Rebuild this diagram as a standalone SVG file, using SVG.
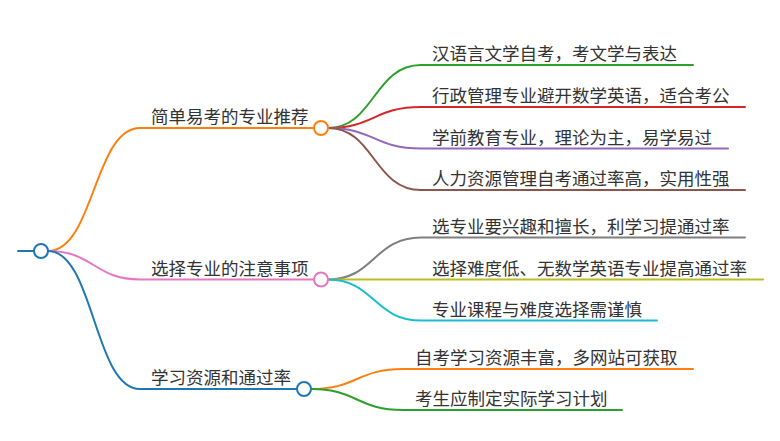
<svg xmlns="http://www.w3.org/2000/svg" width="780" height="441" viewBox="0 0 780 441">
<style>
text{font-family:"Noto Sans CJK SC","Noto Sans",sans-serif;font-size:17.5px;fill:#333}
.l{fill:none;stroke-width:2;stroke-linecap:round}
.n{fill:#fff;stroke-width:2}
</style>
<rect width="780" height="441" fill="#fff"/>
<g id="connectors">
<path class="l" stroke="#1f77b4" d="M18,251 H34"/>
<path class="l" stroke="#ff7f0e" d="M48,251 C94,251 94,128 140,128 H314"/>
<path class="l" stroke="#e377c2" d="M48,251 C94,251 94,279.5 140,279.5 H314"/>
<path class="l" stroke="#1f77b4" d="M48,251 C94,251 94,389 140,389 H297"/>
<path class="l" stroke="#2ca02c" d="M328,128 C374,128 374,65 421,65 H693"/>
<path class="l" stroke="#d62728" d="M328,128 C374,128 374,107 421,107 H745"/>
<path class="l" stroke="#9467bd" d="M328,128 C374,128 374,148.5 421,148.5 H728"/>
<path class="l" stroke="#8c564b" d="M328,128 C374,128 374,190 421,190 H745"/>
<path class="l" stroke="#7f7f7f" d="M328,279.5 C374,279.5 374,237.5 421,237.5 H745"/>
<path class="l" stroke="#bcbd22" d="M328,279.5 H763"/>
<path class="l" stroke="#17becf" d="M328,279.5 C374,279.5 374,320.5 421,320.5 H657"/>
<path class="l" stroke="#ff7f0e" d="M311,389 C357,389 357,369 403,369 H693"/>
<path class="l" stroke="#2ca02c" d="M311,389 C357,389 357,410 403,410 H622"/>
</g>
<g id="root"><circle class="n" cx="41" cy="251" r="7" stroke="#1f77b4"/></g>
<g id="b1"><text x="151" y="123">简单易考的专业推荐</text><circle class="n" cx="321" cy="128" r="7" stroke="#ff7f0e"/></g>
<g id="b2"><text x="151" y="274.5">选择专业的注意事项</text><circle class="n" cx="321" cy="279.5" r="7" stroke="#e377c2"/></g>
<g id="b3"><text x="151" y="384">学习资源和通过率</text><circle class="n" cx="304" cy="389" r="7" stroke="#1f77b4"/></g>
<g id="l1"><text x="432" y="60">汉语言文学自考，考文学与表达</text></g>
<g id="l2"><text x="432" y="102">行政管理专业避开数学英语，适合考公</text></g>
<g id="l3"><text x="432" y="143.5">学前教育专业，理论为主，易学易过</text></g>
<g id="l4"><text x="432" y="185">人力资源管理自考通过率高，实用性强</text></g>
<g id="l5"><text x="432" y="232.5">选专业要兴趣和擅长，利学习提通过率</text></g>
<g id="l6"><text x="432" y="274.5">选择难度低、无数学英语专业提高通过率</text></g>
<g id="l7"><text x="432" y="315.5">专业课程与难度选择需谨慎</text></g>
<g id="l8"><text x="415" y="364">自考学习资源丰富，多网站可获取</text></g>
<g id="l9"><text x="415" y="405">考生应制定实际学习计划</text></g>
</svg>
